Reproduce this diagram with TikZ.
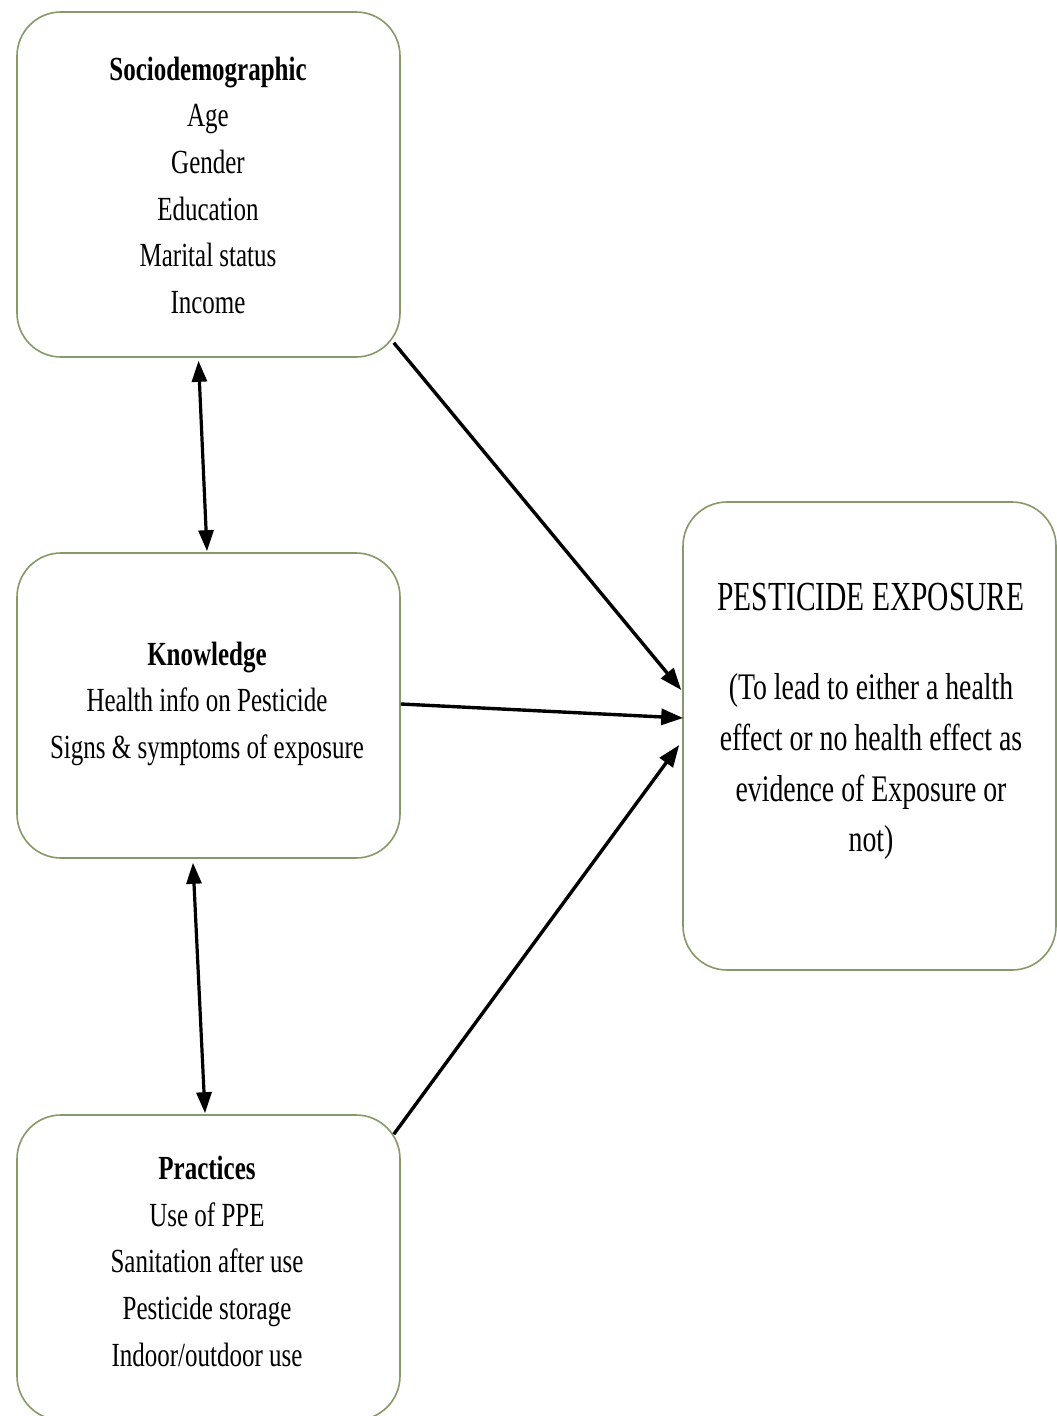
\documentclass[tikz,border=0pt]{standalone}
\usepackage{fontspec}
\setmainfont{Liberation Serif}
\usepackage{graphicx}
\usetikzlibrary{arrows.meta,calc}
\definecolor{boxline}{HTML}{869968}
\newcommand{\stretchtext}[2]{\scalebox{1}[1.35]{\fontsize{#1}{#1}\selectfont\renewcommand{\arraystretch}{1}\begin{tabular}{@{}c@{}}#2\end{tabular}}}
\tikzset{
  box/.style={draw=boxline, line width=1.6pt, rounded corners=44pt, fill=white, inner sep=0pt},
  txt/.style={inner sep=0pt, align=center},
  conn/.style={line width=3.4pt, -{Triangle[length=22pt,width=16pt]}},
  dconn/.style={line width=3.2pt, {Triangle[length=21pt,width=15pt]}-{Triangle[length=21pt,width=15pt]}}
}
\begin{document}
\begin{tikzpicture}[x=1pt,y=-1pt]
\useasboundingbox[fill=white] (0,0) rectangle (1057,1416);
% boxes
\node[box, minimum width=383pt, minimum height=345pt] (socio) at (208.5,184.5) {};
\node[box, minimum width=383pt, minimum height=305pt] (know) at (208.5,705.5) {};
\node[box, minimum width=383pt, minimum height=305pt] (prac) at (208.5,1267.5) {};
\node[box, minimum width=373pt, minimum height=468pt] (pest) at (869.5,736) {};
% texts
\node[txt] (sociotxt) at (208,190) {\stretchtext{25}{%
  \textbf{Sociodemographic}\\[9.5pt]
  Age\\[9.5pt] Gender\\[9.5pt] Education\\[9.5pt] Marital status\\[9.5pt] Income}};
\node[txt] (knowtxt) at (207,705) {\stretchtext{25}{%
  \textbf{Knowledge}\\[9.5pt]
  Health info on Pesticide\\[9.5pt] Signs \& symptoms of exposure}};
\node[txt] (practxt) at (207,1266) {\stretchtext{25}{%
  \textbf{Practices}\\[9.5pt]
  Use of PPE\\[9.5pt] Sanitation after use\\[9.5pt] Pesticide storage\\[9.5pt] Indoor/outdoor use}};
\node[txt] (pesthead) at (871,597) {\scalebox{1}[1.4]{\fontsize{29.5}{29.5}\selectfont PESTICIDE EXPOSURE}};
\node[txt] (pesttxt) at (871,768) {\stretchtext{27.8}{%
  (To lead to either a health\\[9.8pt]
  effect or no health effect as\\[9.8pt]
  evidence of Exposure or\\[9.8pt]
  not)}};
% connectors
\draw[dconn] ($(socio.south)+(-10,3)$) -- ($(know.north)+(-1.5,-1)$);
\draw[dconn] ($(know.south)+(-15.5,4)$) -- ($(prac.north)+(-3.5,-1)$);
\draw[conn] ($(socio.south east)+(-7,-15)$) -- ($(pest.west)+(-1,-46)$);
\draw[conn] ($(know.east)+(0,-1.5)$) -- ($(pest.west)+(1,-18)$);
\draw[conn] ($(prac.north east)+(-7,20)$) -- ($(pest.west)+(-3,9)$);
\end{tikzpicture}
\end{document}
